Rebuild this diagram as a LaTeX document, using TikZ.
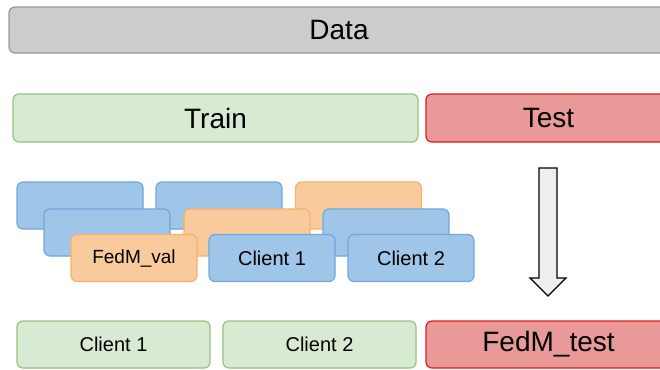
\documentclass[tikz,border=0pt]{standalone}
\usepackage{fontspec}
\setmainfont{Liberation Sans}
\usepackage{xcolor}
\usetikzlibrary{positioning}

\definecolor{dataFill}{HTML}{CCCCCC}
\definecolor{dataLine}{HTML}{999999}
\definecolor{trainFill}{HTML}{D9EAD3}
\definecolor{trainLine}{HTML}{93C47D}
\definecolor{testFill}{HTML}{EA9999}
\definecolor{testLine}{HTML}{DD1C1C}
\definecolor{clientFill}{HTML}{9FC5E8}
\definecolor{clientLine}{HTML}{6FA8DC}
\definecolor{valFill}{HTML}{F9CB9C}
\definecolor{valLine}{HTML}{F6B26B}
\definecolor{arrowFill}{HTML}{EEEEEE}

\begin{document}
\begin{tikzpicture}[x=1pt,y=-1pt,
  box/.style={draw,rounded corners=6pt,line width=1.2pt,inner sep=0pt},
  bigtext/.style={font=\fontsize{28}{32}\selectfont},
  smalltext/.style={font=\fontsize{20}{24}\selectfont},
  datab/.style={box,fill=dataFill,draw=dataLine},
  trainb/.style={box,fill=trainFill,draw=trainLine},
  testb/.style={box,fill=testFill,draw=testLine},
  clientb/.style={box,fill=clientFill,draw=clientLine,minimum width=126pt,minimum height=47pt},
  valb/.style={box,fill=valFill,draw=valLine,minimum width=126pt,minimum height=47pt}
]
  \useasboundingbox (0,0) rectangle (660,369);
  \clip (0,0) rectangle (660,369);

  % top bars
  \node[datab,bigtext,minimum width=660pt,minimum height=46pt] (data) at (339,30) {Data};
  \node[trainb,bigtext,minimum width=405pt,minimum height=48pt] (train) at (215.5,118) {Train};
  \node[testb,bigtext,minimum width=245pt,minimum height=48pt] (test) at (548.5,118) {Test};

  % stacked splits, back rows first
  \foreach \x/\y/\s [count=\k] in {80/205.5/clientb,219/205.5/clientb,358.5/205.5/valb,
                                   107/232.5/clientb,247/232.5/valb,386/232.5/clientb}
    \node[\s] (split_\k) at (\x,\y) {};

  \node[valb,font=\fontsize{19}{23}\selectfont] (val) at (134,258) {FedM\_val};
  \node[clientb,smalltext] (clientA) at (272,258) {Client 1};
  \node[clientb,smalltext] (clientB) at (411,258) {Client 2};

  % test data goes straight to the held-out set
  \draw[line width=1.2pt,fill=arrowFill,line join=miter]
    (539,168) -- (557,168) -- (557,278) -- (566,278) -- (548,296)
    -- (530,278) -- (539,278) -- cycle;

  % bottom row
  \node[trainb,smalltext,minimum width=193pt,minimum height=47pt] (trainA) at (113.5,344.5) {Client 1};
  \node[trainb,smalltext,minimum width=193pt,minimum height=47pt] (trainB) at (319.5,344.5) {Client 2};
  \node[testb,bigtext,minimum width=245pt,minimum height=47pt] (fedtest) at (548.5,344.5) {FedM\_test};
\end{tikzpicture}
\end{document}
